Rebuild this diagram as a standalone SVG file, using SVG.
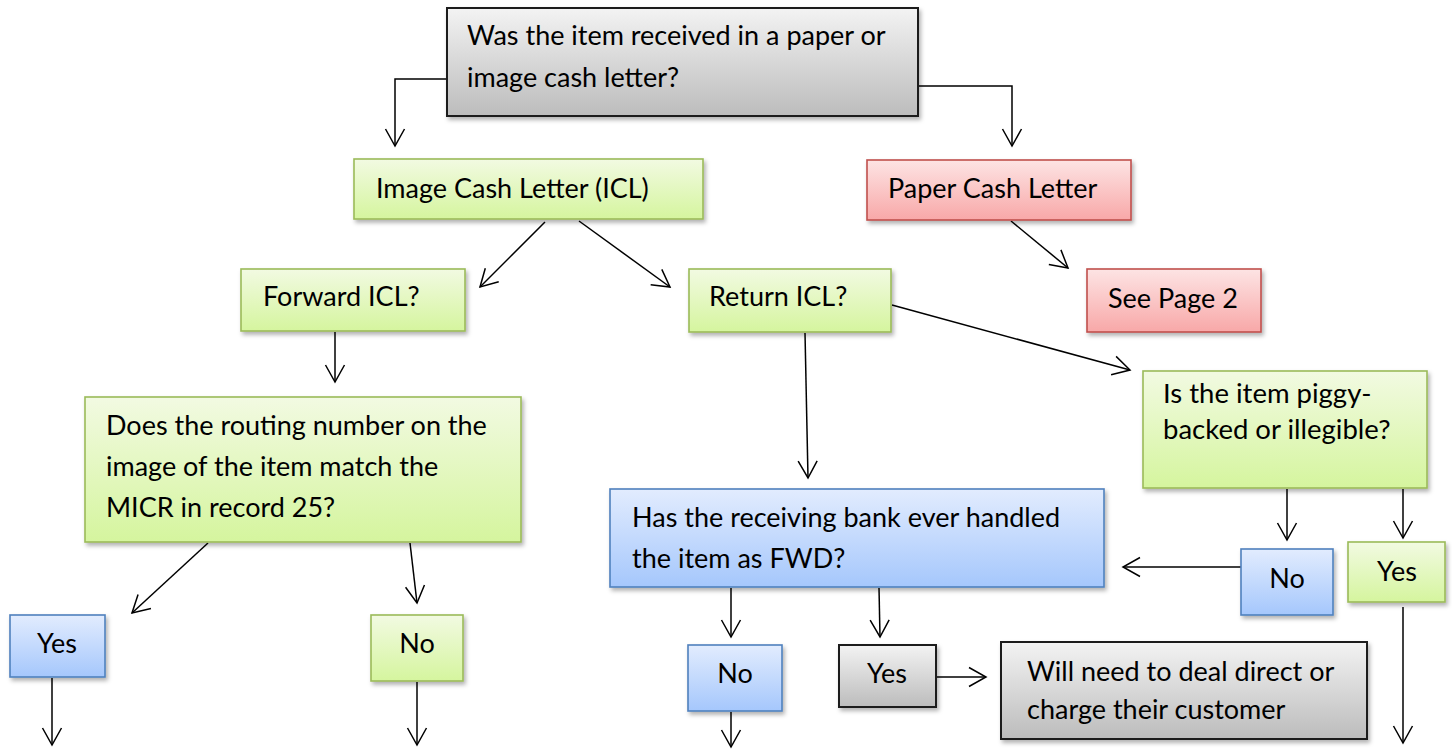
<svg xmlns="http://www.w3.org/2000/svg" width="1452" height="750" viewBox="0 0 1452 750">
<style>
text{font-family:Lato,"Liberation Sans",sans-serif;font-size:27px;fill:#000}
.c{text-anchor:middle}
.gray{fill:url(#gGray);stroke:#1a1a1a;stroke-width:2}
.green{fill:url(#gGreen);stroke:#9bbb59;stroke-width:1.6}
.red{fill:url(#gRed);stroke:#c0504d;stroke-width:1.6}
.blue{fill:url(#gBlue);stroke:#4f81bd;stroke-width:1.6}
.box{filter:url(#sh)}
#connectors path{fill:none;stroke:#000;stroke-width:1.5;marker-end:url(#arr)}
</style>
<defs>
<linearGradient id="gGray" x1="0" y1="0" x2="0" y2="1"><stop offset="0" stop-color="#f3f3f3"/><stop offset="1" stop-color="#bcbcbc"/></linearGradient>
<linearGradient id="gGreen" x1="0" y1="0" x2="0" y2="1"><stop offset="0" stop-color="#f2fae2"/><stop offset="1" stop-color="#d5f59e"/></linearGradient>
<linearGradient id="gRed" x1="0" y1="0" x2="0" y2="1"><stop offset="0" stop-color="#fde4e4"/><stop offset="1" stop-color="#f8a8a8"/></linearGradient>
<linearGradient id="gBlue" x1="0" y1="0" x2="0" y2="1"><stop offset="0" stop-color="#e2ecfe"/><stop offset="1" stop-color="#a5c7fc"/></linearGradient>
<filter id="sh" x="-10%" y="-10%" width="120%" height="130%"><feDropShadow dx="2" dy="3" stdDeviation="2" flood-color="#000" flood-opacity="0.3"/></filter>
<marker id="arr" markerUnits="userSpaceOnUse" markerWidth="24" markerHeight="24" viewBox="-20 -12 24 24" refX="0" refY="0" orient="auto"><path d="M-17,-9.5 L0,0 L-17,9.5" fill="none" stroke="#000" stroke-width="1.5"/></marker>
</defs>

<g id="connectors">
<path d="M447,79 H395 V146"/>
<path d="M918,86 H1012 V146"/>
<path d="M545,222 L480,287"/>
<path d="M579,221 L670,287"/>
<path d="M1011,221 L1068,268"/>
<path d="M335,332 L335,382"/>
<path d="M805,333 L808,478"/>
<path d="M892,305 L1130,370"/>
<path d="M208,543 L132,613"/>
<path d="M410,543 L417,603"/>
<path d="M52,678 L52,745"/>
<path d="M417,682 L417,745"/>
<path d="M1287,489 L1287,540"/>
<path d="M1403,489 L1403,538"/>
<path d="M1241,567 L1123,567"/>
<path d="M1403,607 L1403,743"/>
<path d="M731,588 L731,637"/>
<path d="M879,588 L880,637"/>
<path d="M731,712 L731,747"/>
<path d="M936,677 L986,677"/>
</g>

<g id="n-top"><rect class="gray box" x="447" y="8" width="471" height="108"/><text x="467" y="45">Was the item received in a paper or</text><text x="467" y="87">image cash letter?</text></g>
<g id="n-icl"><rect class="green box" x="354" y="159" width="349" height="60"/><text x="376" y="198">Image Cash Letter (ICL)</text></g>
<g id="n-paper"><rect class="red box" x="867" y="160" width="264" height="60"/><text x="888" y="198">Paper Cash Letter</text></g>
<g id="n-fwd"><rect class="green box" x="241" y="269" width="224" height="62"/><text x="263" y="306">Forward ICL?</text></g>
<g id="n-ret"><rect class="green box" x="689" y="269" width="202" height="63"/><text x="709" y="306">Return ICL?</text></g>
<g id="n-page2"><rect class="red box" x="1087" y="269" width="174" height="63"/><text x="1108" y="308">See Page 2</text></g>
<g id="n-routing"><rect class="green box" x="85" y="397" width="436" height="145"/><text x="106" y="435">Does the routing number on the</text><text x="106" y="476">image of the item match the</text><text x="106" y="517">MICR in record 25?</text></g>
<g id="n-piggy"><rect class="green box" x="1143" y="371" width="284" height="117"/><text x="1163" y="403" style="font-size:27.5px">Is the item piggy-</text><text x="1163" y="439" style="font-size:27.5px">backed or illegible?</text></g>
<g id="n-has"><rect class="blue box" x="610" y="489" width="494" height="98"/><text x="632" y="527">Has the receiving bank ever handled</text><text x="632" y="568">the item as FWD?</text></g>
<g id="n-yes1"><rect class="blue box" x="10" y="615" width="95" height="62"/><text class="c" x="57" y="653">Yes</text></g>
<g id="n-no1"><rect class="green box" x="371" y="615" width="92" height="66"/><text class="c" x="417" y="653">No</text></g>
<g id="n-no2"><rect class="blue box" x="1241" y="549" width="92" height="66"/><text class="c" x="1287" y="588">No</text></g>
<g id="n-yes2"><rect class="green box" x="1348" y="542" width="97" height="60"/><text class="c" x="1397" y="581">Yes</text></g>
<g id="n-no3"><rect class="blue box" x="688" y="645" width="94" height="66"/><text class="c" x="735" y="683">No</text></g>
<g id="n-yes3"><rect class="gray box" x="839" y="645" width="97" height="62"/><text class="c" x="887" y="683">Yes</text></g>
<g id="n-will"><rect class="gray box" x="1001" y="642" width="366" height="97"/><text x="1027" y="681">Will need to deal direct or</text><text x="1027" y="719">charge their customer</text></g>
</svg>
